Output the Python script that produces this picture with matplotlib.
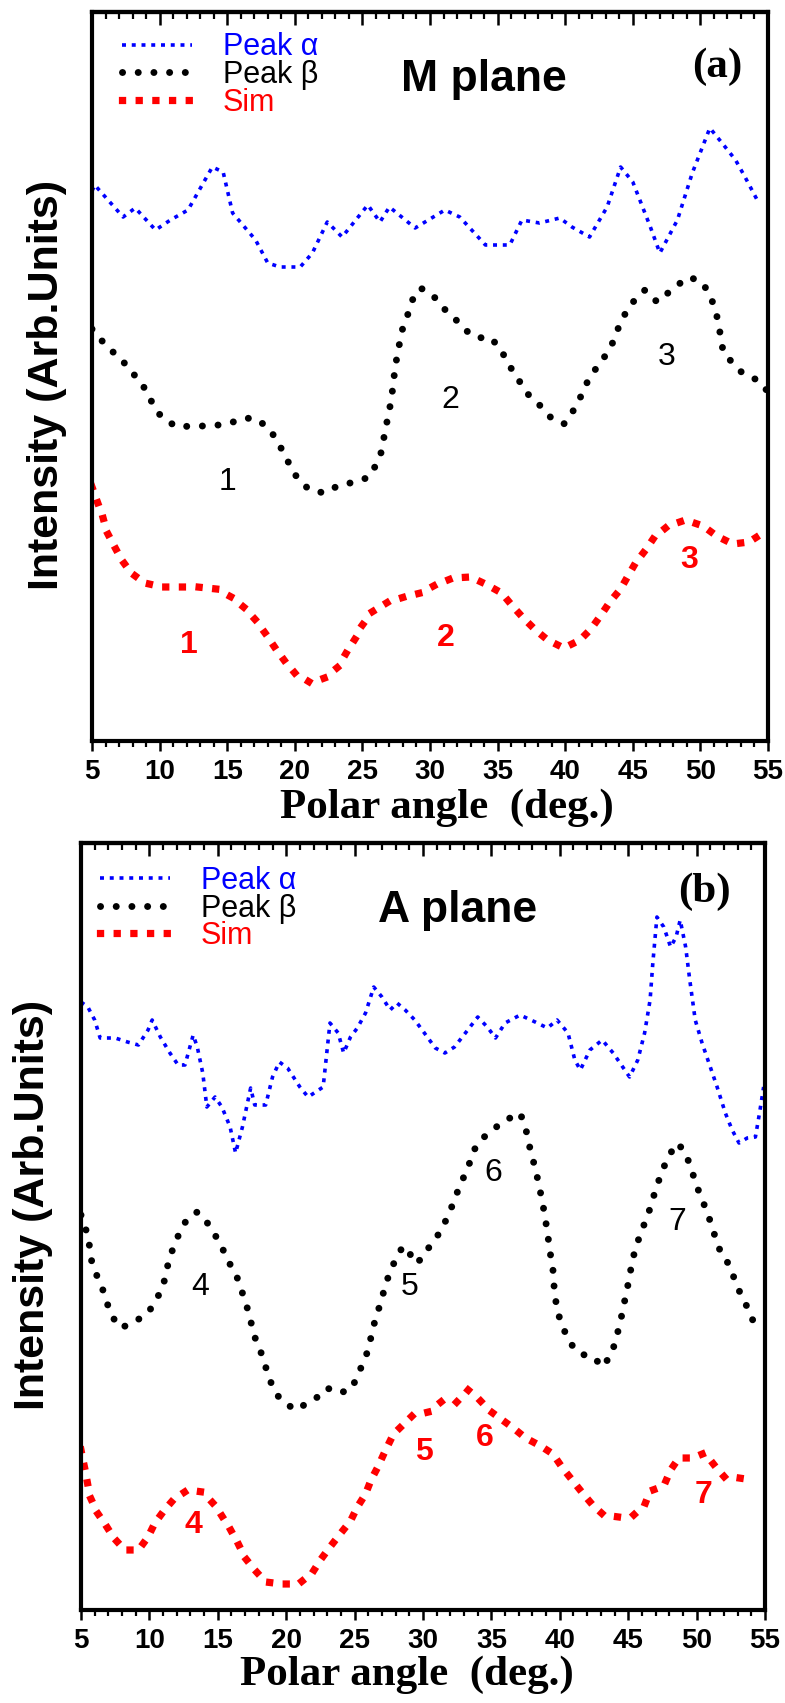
import matplotlib
matplotlib.use("Agg")
import matplotlib.pyplot as plt
from matplotlib.ticker import MultipleLocator

plt.rcParams['font.family'] = ['Liberation Sans', 'DejaVu Sans']

# ---------------- data : M plane (a) ----------------
a_alpha_x = [5.0, 5.2, 7.3, 8.2, 9.7, 10.8, 12.1, 13.9, 14.7, 15.4, 17.1, 18.0, 18.9, 20.4, 21.3,
             22.4, 23.5, 25.4, 26.3, 27.0, 28.9, 31.1, 32.2, 34.1, 35.9, 36.8, 38.1, 39.6,
             40.5, 41.8, 43.1, 44.1, 45.0, 46.3, 47.0, 48.3, 49.4, 50.7, 51.6, 52.6, 53.3, 54.2]
a_alpha_y = [5.50, 5.56, 5.24, 5.33, 5.11, 5.21, 5.31, 5.74, 5.69, 5.28, 5.01, 4.78, 4.74, 4.74, 4.88,
             5.19, 5.04, 5.36, 5.19, 5.34, 5.13, 5.31, 5.24, 4.96, 4.96, 5.21, 5.18, 5.23,
             5.14, 5.04, 5.34, 5.74, 5.59, 5.14, 4.88, 5.21, 5.68, 6.13, 5.98, 5.81, 5.64, 5.41]

a_beta_x = [5.0, 5.4, 6.1, 7.1, 7.8, 8.6, 9.1, 9.6, 10.2, 11.3, 12.4, 13.7, 15.0, 16.3, 17.2,
            18.2, 18.7, 19.3, 19.7, 20.3, 21.1, 22.2, 23.3, 24.5, 25.5, 26.0, 26.4, 26.6,
            26.8, 27.0, 27.2, 27.4, 27.6, 27.8, 28.0, 28.4, 28.7, 29.3, 30.2, 30.9, 31.8,
            32.6, 33.5, 34.4, 35.2, 35.7, 36.7, 37.4, 38.1, 38.9, 39.9, 40.5, 41.1, 41.6,
            42.2, 42.9, 43.5, 44.1, 44.8, 45.9, 46.8, 47.6, 48.3, 49.2, 50.2, 50.9, 51.3,
            51.5, 51.7, 52.4, 53.1, 54.2, 54.6, 55.0]
a_beta_y = [4.12, 4.06, 3.94, 3.83, 3.71, 3.59, 3.48, 3.34, 3.23, 3.14, 3.15, 3.15, 3.17, 3.23, 3.22,
            3.11, 2.99, 2.86, 2.73, 2.61, 2.51, 2.48, 2.56, 2.59, 2.64, 2.76, 2.89, 3.04,
            3.18, 3.31, 3.48, 3.71, 3.88, 4.01, 4.14, 4.28, 4.41, 4.53, 4.46, 4.34, 4.23,
            4.11, 4.03, 4.04, 3.93, 3.79, 3.58, 3.44, 3.36, 3.24, 3.17, 3.28, 3.43, 3.58,
            3.71, 3.84, 3.98, 4.19, 4.36, 4.51, 4.39, 4.48, 4.56, 4.64, 4.58, 4.39, 4.21,
            4.04, 3.88, 3.78, 3.68, 3.61, 3.54, 3.50]

a_sim_x = [5.0, 5.4, 5.8, 6.1, 6.6, 7.2, 7.9, 8.9, 10.2, 11.5, 12.8, 14.2, 15.3, 16.3, 17.1,
           17.8, 18.5, 19.2, 20.0, 21.2, 22.2, 23.2, 23.8, 24.5, 25.0, 25.7, 26.9, 28.1,
           29.3, 30.4, 31.7, 33.0, 34.1, 35.3, 36.1, 36.9, 37.8, 38.7, 39.9, 41.1, 41.9,
           42.6, 43.3, 44.1, 44.6, 45.2, 46.0, 46.6, 47.6, 48.9, 50.2, 51.2, 52.4, 53.6, 54.4]
a_sim_y = [2.54, 2.39, 2.24, 2.09, 1.96, 1.81, 1.68, 1.58, 1.54, 1.54, 1.54, 1.52, 1.44, 1.33, 1.21,
           1.08, 0.94, 0.81, 0.68, 0.58, 0.63, 0.74, 0.88, 1.03, 1.16, 1.29, 1.39, 1.44,
           1.48, 1.56, 1.63, 1.64, 1.57, 1.48, 1.35, 1.23, 1.11, 1.01, 0.93, 1.01, 1.12,
           1.25, 1.39, 1.52, 1.64, 1.78, 1.92, 2.04, 2.15, 2.21, 2.15, 2.05, 1.97, 1.99, 2.06]

a_beta_labels = ["1", "2", "3"]
a_beta_label_x = [15.0, 31.5, 47.5]
a_beta_label_y = [2.59, 3.41, 3.84]
a_sim_labels = ["1", "2", "3"]
a_sim_label_x = [12.2, 31.2, 49.2]
a_sim_label_y = [0.96, 1.03, 1.81]

# ---------------- data : A plane (b) ----------------
b_alpha_x = [5.0, 5.5, 6.0, 6.4, 7.5, 8.4, 9.2, 9.9, 10.2, 10.8, 11.5, 12.1, 12.6, 13.2, 13.5,
             13.9, 14.2, 14.8, 15.3, 15.9, 16.3, 16.8, 17.4, 17.7, 18.5, 19.0, 19.5, 20.1,
             21.0, 21.6, 22.7, 23.2, 23.8, 24.2, 24.7, 25.2, 25.8, 26.4, 27.0, 27.6, 28.1,
             28.7, 29.4, 30.1, 30.9, 31.6, 32.3, 33.1, 34.0, 34.7, 35.3, 36.0, 37.1, 38.2,
             39.1, 39.8, 40.6, 41.1, 41.5, 42.2, 43.1, 43.9, 44.6, 45.1, 45.7, 46.2, 46.6,
             46.8, 47.1, 47.6, 48.1, 48.5, 48.8, 49.2, 49.5, 49.9, 50.4, 51.0, 51.5, 52.1,
             52.6, 53.1, 53.7, 54.3, 54.6, 54.9]
b_alpha_y = [6.08, 6.03, 5.90, 5.72, 5.72, 5.68, 5.65, 5.80, 5.90, 5.73, 5.57, 5.45, 5.45, 5.75, 5.63,
             5.37, 5.03, 5.13, 5.03, 4.83, 4.57, 4.83, 5.22, 5.05, 5.05, 5.33, 5.48, 5.42,
             5.23, 5.13, 5.23, 5.87, 5.77, 5.57, 5.73, 5.82, 5.97, 6.23, 6.13, 6.00, 6.07,
             6.00, 5.90, 5.77, 5.62, 5.57, 5.63, 5.77, 5.93, 5.83, 5.72, 5.87, 5.95, 5.88,
             5.82, 5.90, 5.77, 5.50, 5.40, 5.60, 5.70, 5.57, 5.43, 5.33, 5.50, 5.77, 6.10,
             6.47, 6.93, 6.83, 6.63, 6.73, 6.90, 6.63, 6.30, 5.90, 5.67, 5.43, 5.23, 4.97,
             4.80, 4.67, 4.72, 4.73, 4.97, 5.23]

b_beta_x = [5.0, 5.1, 5.5, 5.8, 6.2, 6.6, 6.9, 7.3, 7.9, 8.9, 9.9, 10.4, 11.0, 11.2, 11.5,
            11.9, 12.3, 12.8, 13.5, 14.1, 14.8, 15.3, 15.7, 16.3, 16.8, 17.2, 17.7, 18.1,
            18.4, 19.0, 19.5, 20.1, 20.8, 21.5, 22.3, 23.0, 23.8, 24.7, 25.2, 25.6, 26.0,
            26.2, 26.5, 26.9, 27.3, 27.7, 28.1, 28.5, 28.9, 29.3, 29.8, 30.3, 31.2, 31.8,
            32.3, 32.7, 33.3, 33.6, 34.2, 35.1, 35.8, 36.5, 37.1, 37.5, 37.8, 38.1, 38.4,
            38.7, 38.9, 39.1, 39.3, 39.5, 39.6, 39.8, 40.2, 40.6, 41.1, 41.8, 42.6, 43.0,
            43.7, 44.1, 44.5, 44.8, 45.1, 45.3, 45.9, 46.4, 47.0, 47.5, 48.1, 48.6, 49.2,
            49.7, 50.2, 50.8, 51.2, 51.5, 51.9, 52.3, 52.8, 53.3, 53.9, 54.1]
b_beta_y = [3.95, 3.90, 3.75, 3.47, 3.33, 3.20, 3.07, 2.93, 2.82, 2.88, 2.97, 3.08, 3.23, 3.37, 3.53,
            3.68, 3.80, 3.92, 3.98, 3.90, 3.75, 3.63, 3.50, 3.37, 3.17, 3.00, 2.73, 2.60,
            2.47, 2.23, 2.12, 2.05, 2.00, 2.07, 2.13, 2.22, 2.17, 2.20, 2.33, 2.47, 2.60,
            2.73, 2.90, 3.07, 3.27, 3.42, 3.53, 3.63, 3.62, 3.47, 3.50, 3.60, 3.77, 3.93,
            4.10, 4.25, 4.42, 4.57, 4.70, 4.80, 4.88, 4.93, 4.97, 4.82, 4.63, 4.47, 4.30,
            4.10, 3.95, 3.77, 3.57, 3.40, 3.20, 3.00, 2.83, 2.72, 2.60, 2.55, 2.52, 2.43,
            2.53, 2.70, 2.93, 3.13, 3.33, 3.50, 3.77, 3.93, 4.20, 4.40, 4.57, 4.67, 4.57,
            4.37, 4.17, 3.97, 3.80, 3.67, 3.53, 3.47, 3.30, 3.13, 2.98, 2.90]

b_sim_x = [5.0, 5.1, 5.3, 5.5, 5.7, 6.2, 6.8, 7.4, 8.2, 9.2, 9.9, 10.4, 11.1, 11.8, 12.8,
           13.9, 14.7, 15.3, 15.9, 16.5, 17.0, 17.7, 18.5, 19.7, 20.9, 21.9, 22.5, 23.2,
           24.0, 24.7, 25.2, 25.8, 26.2, 26.7, 27.2, 27.7, 28.3, 29.2, 30.4, 31.4, 32.4,
           33.3, 34.0, 34.9, 35.7, 36.6, 37.5, 38.6, 39.5, 40.2, 40.9, 41.6, 42.4, 43.2,
           44.3, 45.4, 46.2, 46.6, 47.6, 48.1, 48.7, 49.7, 50.6, 51.4, 52.1, 53.1, 54.1]
b_sim_y = [1.60, 1.53, 1.40, 1.25, 1.12, 0.97, 0.85, 0.72, 0.60, 0.60, 0.73, 0.87, 1.00, 1.11, 1.20,
           1.18, 1.06, 0.94, 0.81, 0.66, 0.52, 0.40, 0.28, 0.26, 0.26, 0.37, 0.50, 0.63,
           0.77, 0.89, 1.03, 1.16, 1.30, 1.43, 1.58, 1.72, 1.82, 1.94, 1.98, 2.09, 2.07,
           2.20, 2.12, 1.99, 1.91, 1.82, 1.72, 1.64, 1.56, 1.42, 1.30, 1.18, 1.05, 0.95,
           0.93, 0.95, 1.05, 1.19, 1.24, 1.40, 1.52, 1.52, 1.57, 1.43, 1.32, 1.32, 1.30]

b_beta_labels = ["4", "5", "6", "7"]
b_beta_label_x = [13.7, 29.0, 35.1, 48.6]
b_beta_label_y = [3.23, 3.23, 4.37, 3.88]
b_sim_labels = ["4", "5", "6", "7"]
b_sim_label_x = [13.2, 30.1, 34.5, 50.5]
b_sim_label_y = [0.85, 1.58, 1.72, 1.15]

x_ticks = [5, 10, 15, 20, 25, 30, 35, 40, 45, 50, 55]
series_names = ["Peak \u03b1", "Peak \u03b2", "Sim"]
series_colors = ["#0000ff", "#000000", "#ff0000"]

# ---------------- figure ----------------
W, H = 785, 1703
fig = plt.figure(figsize=(W / 100, H / 100), dpi=100)


def px_axes(l, t, r, b):
    return fig.add_axes([l / W, 1 - b / H, (r - l) / W, (b - t) / H])


ax_a = px_axes(92, 12, 768, 741)
ax_b = px_axes(81, 843, 765, 1610)


def draw_panel(ax, ymax, ax_, ay_, bx_, by_, sx_, sy_,
               beta_lab, beta_lx, beta_ly, sim_lab, sim_lx, sim_ly,
               plane, tag, leg_anchor, plane_xy, tag_xy):
    la, = ax.plot(ax_, ay_, color=series_colors[0], lw=2.6,
                  linestyle=(0, (1.1, 1.6)), dash_capstyle='butt')
    lb, = ax.plot(bx_, by_, color=series_colors[1], lw=5.0,
                  linestyle=(0, (0.01, 2.25)), dash_capstyle='round')
    ls, = ax.plot(sx_, sy_, color=series_colors[2], lw=5.2,
                  linestyle=(0, (0.01, 2.3)), dash_capstyle='projecting')
    ax.set_xlim(5, 55)
    ax.set_ylim(0, ymax)
    ax.set_yticks([])
    ax.xaxis.set_minor_locator(MultipleLocator(1))
    ax.set_xticks(x_ticks)
    ax.set_xticklabels([str(t) for t in x_ticks], fontsize=20, fontweight='bold')
    ax.tick_params(axis='x', which='major', direction='out', length=7, width=1.8,
                   pad=6, top=False)
    ax.tick_params(axis='x', which='minor', direction='out', length=4, width=1.6, top=False)
    sec = ax.secondary_xaxis('top')
    sec.set_xticks(x_ticks)
    sec.xaxis.set_minor_locator(MultipleLocator(1))
    sec.tick_params(axis='x', which='major', direction='in', length=9, width=1.8,
                    labeltop=False)
    sec.tick_params(axis='x', which='minor', direction='in', length=5, width=1.6)
    sec.spines['top'].set_linewidth(3.0)
    for s in ax.spines.values():
        s.set_linewidth(3.0)

    for t, x, y in zip(beta_lab, beta_lx, beta_ly):
        ax.text(x, y, t, color='black', fontsize=23, ha='center', va='center')
    for t, x, y in zip(sim_lab, sim_lx, sim_ly):
        ax.text(x, y, t, color='red', fontsize=23, fontweight='bold',
                ha='center', va='center')

    ax.legend([la, lb, ls], series_names, loc='upper left', bbox_to_anchor=leg_anchor,
              frameon=False, fontsize=22, labelcolor=series_colors,
              handlelength=2.3, handletextpad=1.0, labelspacing=-0.08,
              borderpad=0.0, borderaxespad=0.0)
    ax.text(plane_xy[0], plane_xy[1], plane, transform=ax.transAxes, fontsize=32,
            fontweight='bold', ha='center', va='center')
    ax.text(tag_xy[0], tag_xy[1], tag, transform=ax.transAxes, fontsize=31,
            fontweight='bold', family='Liberation Serif', ha='center', va='center')


draw_panel(ax_a, 7.29, a_alpha_x, a_alpha_y, a_beta_x, a_beta_y, a_sim_x, a_sim_y,
           a_beta_labels, a_beta_label_x, a_beta_label_y,
           a_sim_labels, a_sim_label_x, a_sim_label_y,
           "M plane", "(a)", (0.044, 0.972), (0.58, 0.908), (0.925, 0.925))
draw_panel(ax_b, 7.67, b_alpha_x, b_alpha_y, b_beta_x, b_beta_y, b_sim_x, b_sim_y,
           b_beta_labels, b_beta_label_x, b_beta_label_y,
           b_sim_labels, b_sim_label_x, b_sim_label_y,
           "A plane", "(b)", (0.028, 0.970), (0.55, 0.912), (0.911, 0.937))

# axis titles
ylab_kw = dict(rotation=90, ha='center', va='center', fontsize=31, fontweight='bold')
fig.text(47 / W, 1 - 385 / H, "Intensity (Arb.Units)", **ylab_kw)
fig.text(33 / W, 1 - 1205 / H, "Intensity (Arb.Units)", **ylab_kw)
xlab_kw = dict(ha='center', va='center', fontsize=31, fontweight='bold',
               family='Liberation Serif')
fig.text(447 / W, 1 - 808 / H, "Polar angle  (deg.)", **xlab_kw)
fig.text(407 / W, 1 - 1675 / H, "Polar angle  (deg.)", **xlab_kw)

fig.savefig("out.png", dpi=100)
